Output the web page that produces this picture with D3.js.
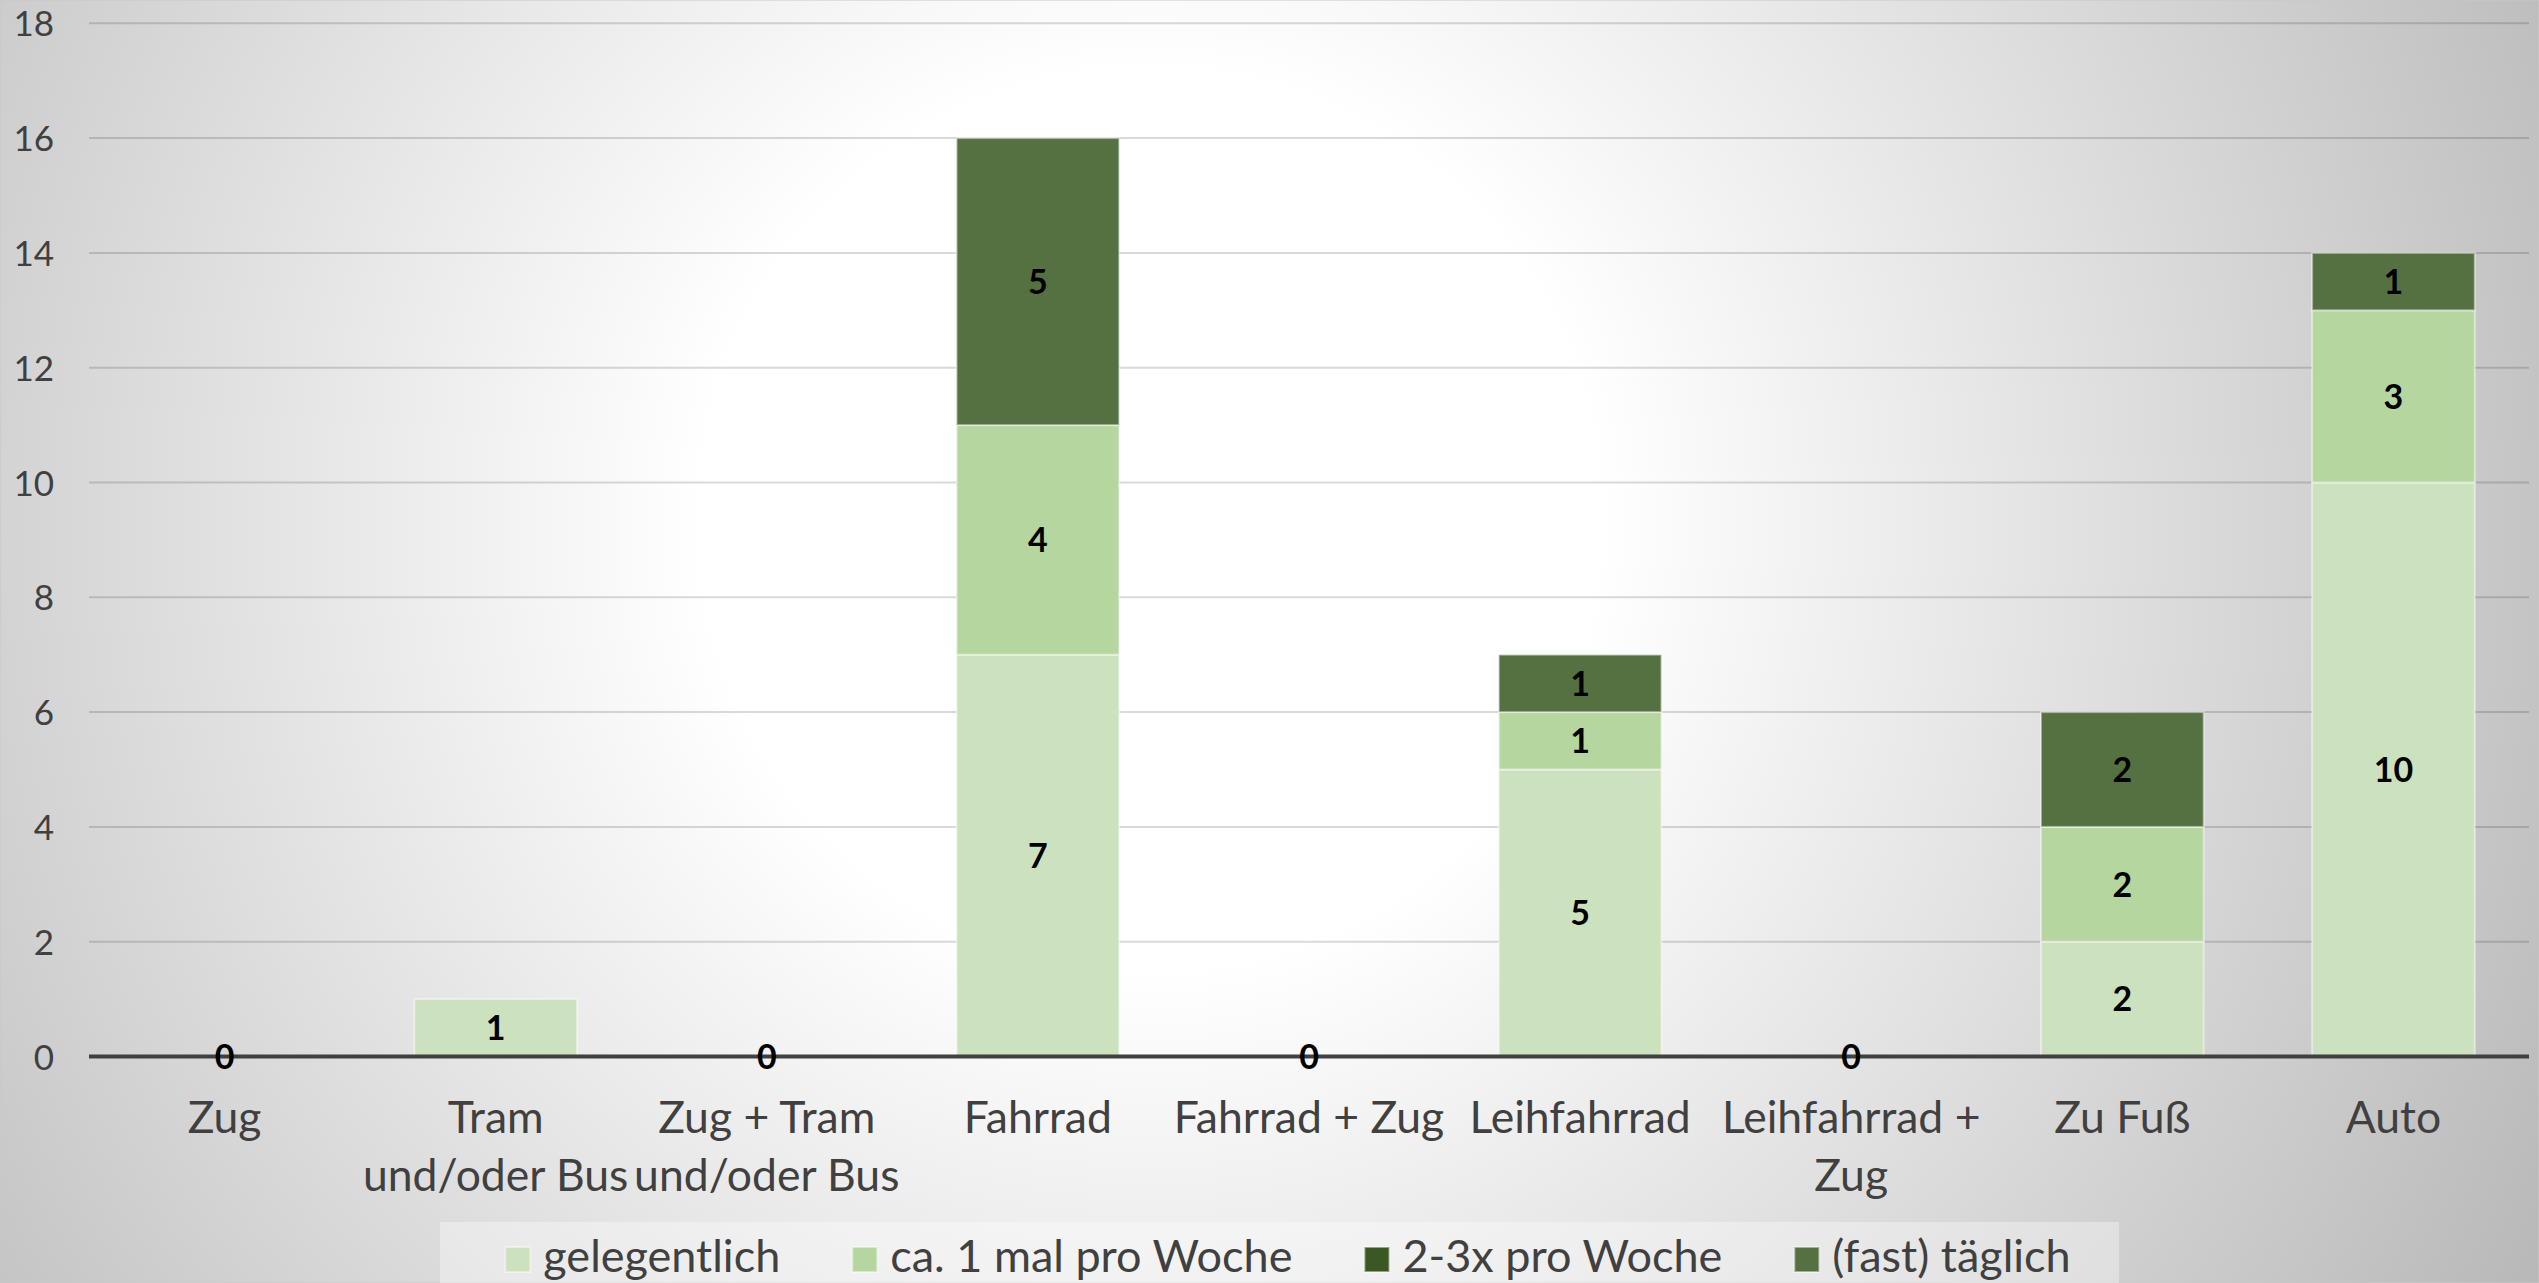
<!DOCTYPE html>
<html><head><meta charset="utf-8">
<script src="https://cdn.jsdelivr.net/npm/d3@7"></script>
<style>html,body{margin:0;padding:0;overflow:hidden;background:#fff}</style>
</head><body>
<svg id="chart" width="2539" height="1283"></svg>
<script>
// ---- data ----
const categories = ["Zug", "Tram\nund/oder Bus", "Zug + Tram\nund/oder Bus", "Fahrrad", "Fahrrad + Zug", "Leihfahrrad", "Leihfahrrad +\nZug", "Zu Fuß", "Auto"];
const seriesNames = ["gelegentlich", "ca. 1 mal pro Woche", "2-3x pro Woche", "(fast) täglich"];
const gelegentlich        = [0, 1, 0, 7, 0, 5, 0, 2, 10];
const ca1malProWoche      = [null, null, null, 4, null, 1, null, 2, 3];
const zweiDreiMalProWoche = [null, null, null, null, null, null, null, null, null];
const fastTaeglich        = [null, null, null, 5, null, 1, null, 2, 1];
const yTicks = [0, 2, 4, 6, 8, 10, 12, 14, 16, 18];
const seriesColors = ["#CCE1BD", "#B5D69F", "#3A5724", "#557142"];

const seriesValues = [gelegentlich, ca1malProWoche, zweiDreiMalProWoche, fastTaeglich];

// ---- layout ----
const W = 2539, H = 1283;
const plot = {left: 89, right: 2529, top: 23.3, bottom: 1056.5};
const FONT = "Lato, 'Open Sans', sans-serif";
const textColor = "#404040";

const svg = d3.select("#chart");
const defs = svg.append("defs");
const grad = defs.append("radialGradient").attr("id", "bg")
  .attr("gradientUnits", "userSpaceOnUse")
  .attr("cx", 1150).attr("cy", 520).attr("r", 1600);
grad.append("stop").attr("offset", 0).attr("stop-color", "#ffffff");
grad.append("stop").attr("offset", 0.28).attr("stop-color", "#ffffff");
grad.append("stop").attr("offset", 1).attr("stop-color", "#b7b7b7");

svg.append("rect").attr("width", W).attr("height", H).attr("fill", "url(#bg)")
  .attr("stroke", "#c8c8c8").attr("stroke-width", 1);

const x = d3.scaleBand().domain(categories).range([plot.left, plot.right])
  .paddingInner(0.4).paddingOuter(0.2);
const y = d3.scaleLinear().domain([0, 18]).range([plot.bottom, plot.top]);

// gridlines
svg.append("g").selectAll("line").data(yTicks.filter(d => d > 0)).join("line")
  .attr("x1", plot.left).attr("x2", plot.right)
  .attr("y1", d => y(d)).attr("y2", d => y(d))
  .attr("stroke", "rgba(0,0,0,0.15)").attr("stroke-width", 2);

// y axis labels
const yAxis = d3.axisLeft(y).tickValues(yTicks).tickSize(0).tickPadding(0);
const yg = svg.append("g").attr("transform", `translate(54,0)`).call(yAxis);
yg.select(".domain").remove();
yg.selectAll("text").attr("font-family", FONT).attr("font-size", 35)
  .attr("fill", textColor).attr("dy", "0.36em").attr("x", 0);

// stacked data
const rows = categories.map((c, i) => {
  const r = {cat: c};
  seriesNames.forEach((s, k) => r[s] = seriesValues[k][i] || 0);
  return r;
});
const stacked = d3.stack().keys(seriesNames)(rows);

const barsG = svg.append("g");
stacked.forEach((layer, k) => {
  barsG.append("g").selectAll("rect")
    .data(layer.map((d, i) => ({d, i})).filter(o => o.d[1] - o.d[0] > 0))
    .join("rect")
    .attr("x", o => x(categories[o.i]))
    .attr("width", x.bandwidth())
    .attr("y", o => y(o.d[1]))
    .attr("height", o => y(o.d[0]) - y(o.d[1]))
    .attr("fill", seriesColors[k])
    .attr("stroke", "rgba(255,255,255,0.45)").attr("stroke-width", 2);
});

// x axis line
svg.append("line").attr("x1", plot.left).attr("x2", plot.right)
  .attr("y1", y(0)).attr("y2", y(0))
  .attr("stroke", "#404040").attr("stroke-width", 4);

// data labels
const labG = svg.append("g");
stacked.forEach((layer, k) => {
  labG.append("g").selectAll("text")
    .data(layer.map((d, i) => ({d, i})).filter(o => seriesValues[k][o.i] !== null))
    .join("text")
    .attr("x", o => x(categories[o.i]) + x.bandwidth() / 2)
    .attr("y", o => y((o.d[0] + o.d[1]) / 2))
    .attr("dy", "0.36em")
    .attr("text-anchor", "middle")
    .attr("font-family", FONT).attr("font-weight", "bold").attr("font-size", 34)
    .attr("fill", "#000")
    .text(o => seriesValues[k][o.i]);
});

// category labels
const catG = svg.append("g");
categories.forEach(c => {
  const lines = c.split("\n");
  const t = catG.append("text")
    .attr("text-anchor", "middle")
    .attr("font-family", FONT).attr("font-size", 44.5).attr("fill", textColor);
  lines.forEach((ln, j) => {
    t.append("tspan").attr("x", x(c) + x.bandwidth() / 2)
      .attr("y", 1133 + j * 58).text(ln);
  });
});

// legend
const legBox = {x0: 440, x1: 2119, y0: 1222};
svg.append("rect").attr("x", legBox.x0).attr("y", legBox.y0)
  .attr("width", legBox.x1 - legBox.x0).attr("height", H - legBox.y0 + 5)
  .attr("fill", "rgba(255,255,255,0.35)");
const legG = svg.append("g");
const sq = 25, sqGap = 13, itemGap = 72, base = 1272;
const items = seriesNames.map((s, k) => {
  const g = legG.append("g");
  g.append("rect").attr("width", sq).attr("height", sq).attr("y", base - sq)
    .attr("fill", seriesColors[k]).attr("stroke", "rgba(255,255,255,0.45)").attr("stroke-width", 2);
  const t = g.append("text").attr("x", sq + sqGap).attr("y", base)
    .attr("font-family", FONT).attr("font-size", 45).attr("fill", textColor).text(s);
  return {g, w: sq + sqGap + t.node().getComputedTextLength()};
});
const total = d3.sum(items, d => d.w) + itemGap * (items.length - 1);
let cx = 1288 - total / 2;
items.forEach(it => { it.g.attr("transform", `translate(${cx},0)`); cx += it.w + itemGap; });
</script>
</body></html>
